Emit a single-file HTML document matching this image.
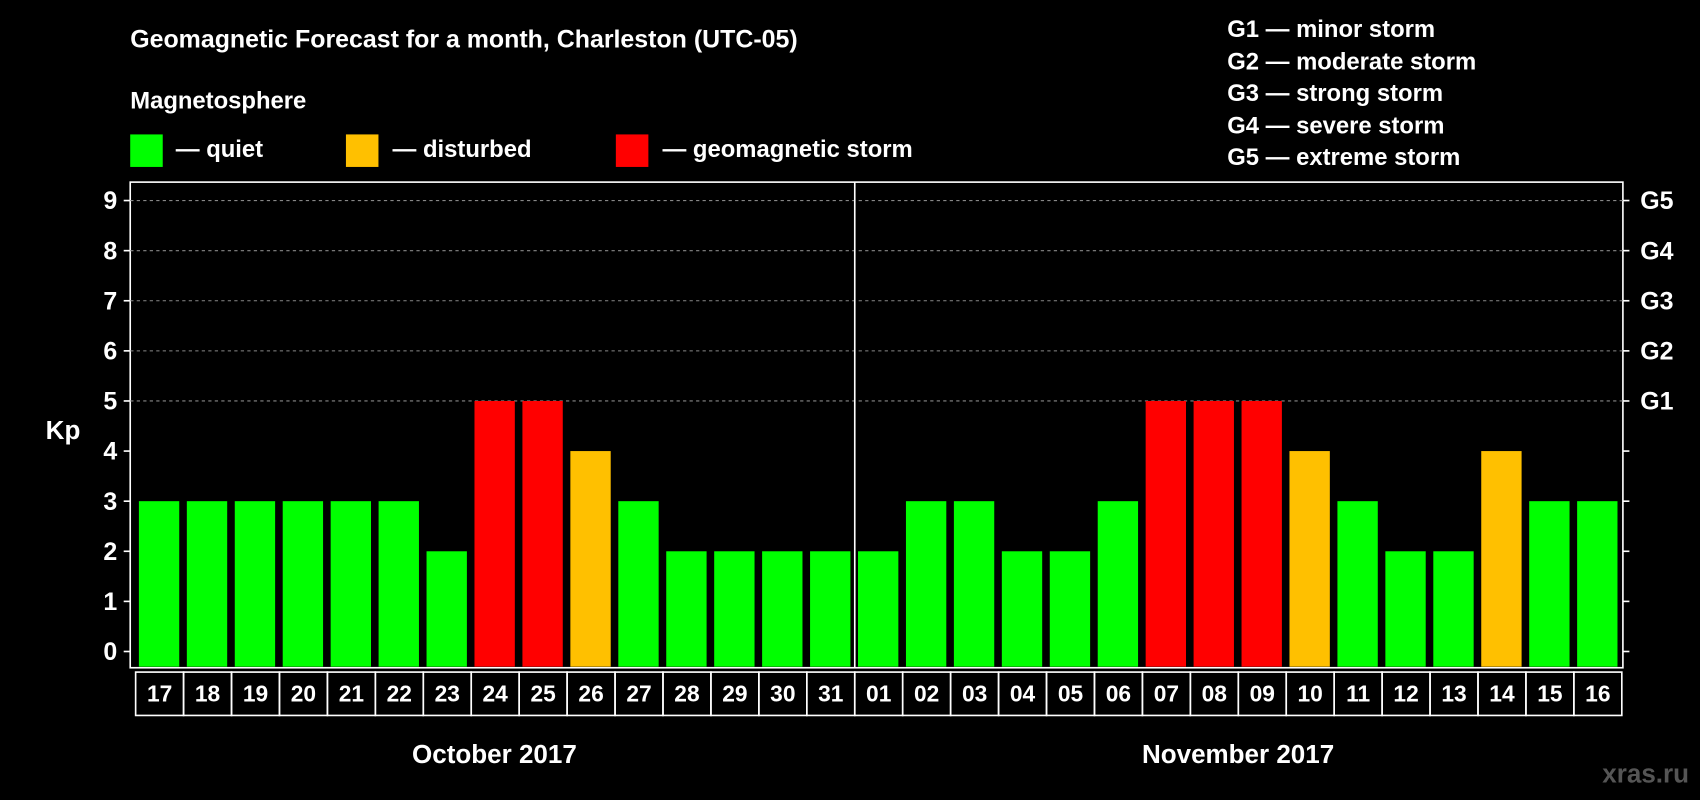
<!DOCTYPE html>
<html><head><meta charset="utf-8"><style>
html,body{margin:0;padding:0;background:#000;width:1700px;height:800px;overflow:hidden}
svg{display:block}
text{font-family:"Liberation Sans",Arial,sans-serif;font-weight:bold;fill:#fff}
</style></head><body>
<svg id="chart" width="1700" height="800" viewBox="0 0 1568 738" xmlns="http://www.w3.org/2000/svg">
<rect width="1568" height="738" fill="#000"/>
<text x="120" y="44" font-size="23">Geomagnetic Forecast for a month, Charleston (UTC-05)</text>
<text x="120" y="100" font-size="22">Magnetosphere</text>
<g>
<rect x="120" y="124" width="30" height="30" fill="#00ff00"/>
<text x="162" y="145" font-size="22">— quiet</text>
<rect x="319" y="124" width="30" height="30" fill="#ffc000"/>
<text x="362" y="145" font-size="22">— disturbed</text>
<rect x="568" y="124" width="30" height="30" fill="#ff0000"/>
<text x="611" y="145" font-size="22">— geomagnetic storm</text>
</g>
<g font-size="22">
<text x="1132" y="34">G1 — minor storm</text>
<text x="1132" y="64">G2 — moderate storm</text>
<text x="1132" y="93">G3 — strong storm</text>
<text x="1132" y="123">G4 — severe storm</text>
<text x="1132" y="152">G5 — extreme storm</text>
</g>
<text x="58" y="405" font-size="24" text-anchor="middle">Kp</text>
<text x="456" y="704" font-size="24" text-anchor="middle">October 2017</text>
<text x="1142" y="704" font-size="24" text-anchor="middle">November 2017</text>
<text x="1558" y="722" font-size="24" text-anchor="end" style="fill:#555">xras.ru</text>
<g id="plot"></g>
</svg>
<script>
const days = ["17","18","19","20","21","22","23","24","25","26","27","28","29","30","31","01","02","03","04","05","06","07","08","09","10","11","12","13","14","15","16"];
const kpValues = [3,3,3,3,3,3,2,5,5,4,3,2,2,2,2,2,3,3,2,2,3,5,5,5,4,3,2,2,4,3,3];
const yTicks = [0,1,2,3,4,5,6,7,8,9];
const gLabels = ["G1","G2","G3","G4","G5"];
const gLevels = [5,6,7,8,9];
const monthBreakIndex = 15;

const NS="http://www.w3.org/2000/svg";
const g=document.getElementById('plot');
const L=120,R=1497,T=168,B=616;
const x0=125, slot=(1496-125)/days.length;
const y=v=>601-v*(601-185)/9;
const xs=i=>x0+i*slot;
function mk(t,a){const e=document.createElementNS(NS,t);for(const k in a)e.setAttribute(k,a[k]);g.appendChild(e);return e;}
let e;
e=mk('rect',{x:L,y:T,width:R-L,height:B-T,fill:'none',stroke:'#fff','stroke-width':1.5});


yTicks.forEach(v=>{
  if(v>=5){e=mk('line',{x1:L,x2:R,y1:y(v),y2:y(v),stroke:'#888','stroke-dasharray':'3,3','stroke-width':1});
  
  }
  e=mk('line',{x1:L-6,x2:L,y1:y(v),y2:y(v),stroke:'#fff','stroke-width':1.5});
  
  
  e=mk('line',{x1:R,x2:R+6,y1:y(v),y2:y(v),stroke:'#fff','stroke-width':1.5});
  
  
  e=mk('text',{x:L-12,y:y(v)+8,'text-anchor':'end','font-size':23});e.textContent=v;
  
  
});
gLevels.forEach((v,i)=>{
  e=mk('text',{x:R+16,y:y(v)+8,'font-size':23});e.textContent=gLabels[i];
  
  
});
kpValues.forEach((v,i)=>{
  const c=v>=5?'#ff0000':(v>=4?'#ffc000':'#00ff00');
  e=mk('rect',{x:xs(i)+3,y:y(v),width:slot-7,height:B-1-y(v),fill:c});
  
  
  e=mk('rect',{x:xs(i),y:620,width:slot,height:40,fill:'none',stroke:'#fff','stroke-width':1.5});
  
  
  e=mk('text',{x:xs(i)+slot/2,y:647,'text-anchor':'middle','font-size':21});e.textContent=days[i];
  
  
});
const bx=xs(monthBreakIndex);
e=mk('line',{x1:bx,x2:bx,y1:T,y2:B,stroke:'#fff','stroke-width':1.5});


</script>
</body></html>
